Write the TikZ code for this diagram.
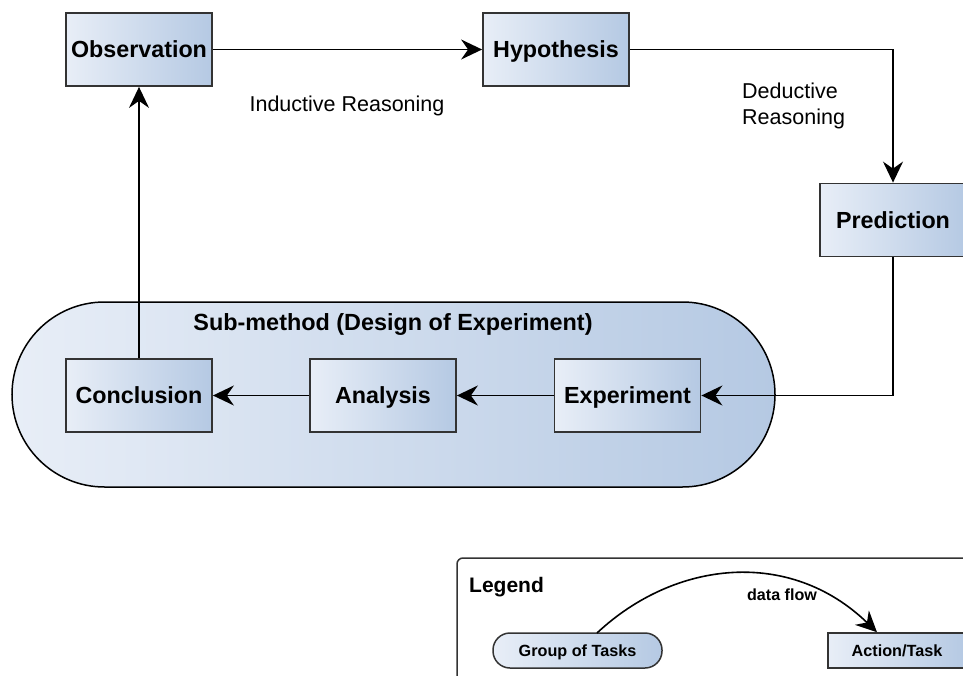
\documentclass[tikz,border=0pt]{standalone}
\usepackage{fontspec}
\setmainfont{Liberation Sans}
\usetikzlibrary{arrows.meta}
\definecolor{boxlight}{HTML}{E8EEF7}
\definecolor{boxdark}{HTML}{B5C9E3}
\definecolor{edgegray}{HTML}{333333}
\begin{document}
\begin{tikzpicture}[x=1pt,y=-1pt,
  capcenter/.style={text height=#1,text depth=0pt},
  taskbox/.style={draw=edgegray,line width=1.8pt,left color=boxlight,right color=boxdark,
    minimum width=146pt,minimum height=73pt,inner sep=0pt,capcenter=16.7pt,
    font=\fontsize{23.3}{28}\selectfont\bfseries},
  legendtask/.style={draw=edgegray,line width=1.5pt,left color=boxlight,right color=boxdark,
    minimum width=138pt,minimum height=35pt,inner sep=0pt,capcenter=11.6pt,
    font=\fontsize{16.2}{19}\selectfont\bfseries},
  flow/.style={line width=1.6pt,-{Stealth[length=21pt,width=20pt,inset=7pt]}},
  reason/.style={font=\fontsize{21.5}{26}\selectfont,align=left,inner sep=0pt}]
\clip (0,0) rectangle (963,676);
\fill[white] (0,0) rectangle (963,676);

% sub-method group
\draw[line width=1.5pt,rounded corners=92.5pt,left color=boxlight,right color=boxdark]
  (12,302) rectangle (775,487);
\node[font=\fontsize{23.4}{28}\selectfont\bfseries,capcenter=16.7pt] (subm) at (393,322) {Sub-method (Design of Experiment)};

% main tasks
\node[taskbox] (obs) at (139,49.5) {Observation};
\node[taskbox] (hyp) at (556,49.5) {Hypothesis};
\node[taskbox] (pred) at (893,220) {Prediction};
\node[taskbox] (conc) at (139,395.5) {Conclusion};
\node[taskbox] (ana) at (383,395.5) {Analysis};
\node[taskbox] (exp) at (627.5,395.5) {Experiment};

% connectors
\draw[flow] (obs) -- (hyp);
\draw[flow] (hyp.east) -| (pred.north);
\draw[flow] (pred.south) |- (exp.east);
\draw[flow] (exp) -- (ana);
\draw[flow] (ana) -- (conc);
\draw[flow] (conc) -- (obs);

% reasoning labels
\node[reason,capcenter=15.4pt] (ind) at (347,104) {Inductive Reasoning};
\node[reason,anchor=west] (ded) at (742,106) {Deductive\\Reasoning};

% legend
\draw[line width=1.5pt,draw=edgegray,rounded corners=6pt] (457,558) rectangle (1000,720);
\node[font=\fontsize{21}{25}\selectfont\bfseries,anchor=west,inner sep=0pt,capcenter=15pt] (legt) at (469,585) {Legend};
\node[draw=edgegray,line width=1.5pt,left color=boxlight,right color=boxdark,
  rounded corners=17pt,minimum width=169pt,minimum height=35pt,inner sep=0pt,capcenter=11.6pt,
  font=\fontsize{16.2}{19}\selectfont\bfseries] (grp) at (577.5,650.5) {Group of Tasks};
\node[legendtask] (act) at (897,650.5) {Action/Task};
\coordinate (gstart) at (597,633);
\draw[flow] (gstart) .. controls (675,560) and (790,548) .. (act.north -| 877,0);
\node[font=\fontsize{16.1}{19}\selectfont\bfseries,inner sep=0pt,capcenter=11.5pt] (dfl) at (782,595) {data flow};
\end{tikzpicture}
\end{document}
